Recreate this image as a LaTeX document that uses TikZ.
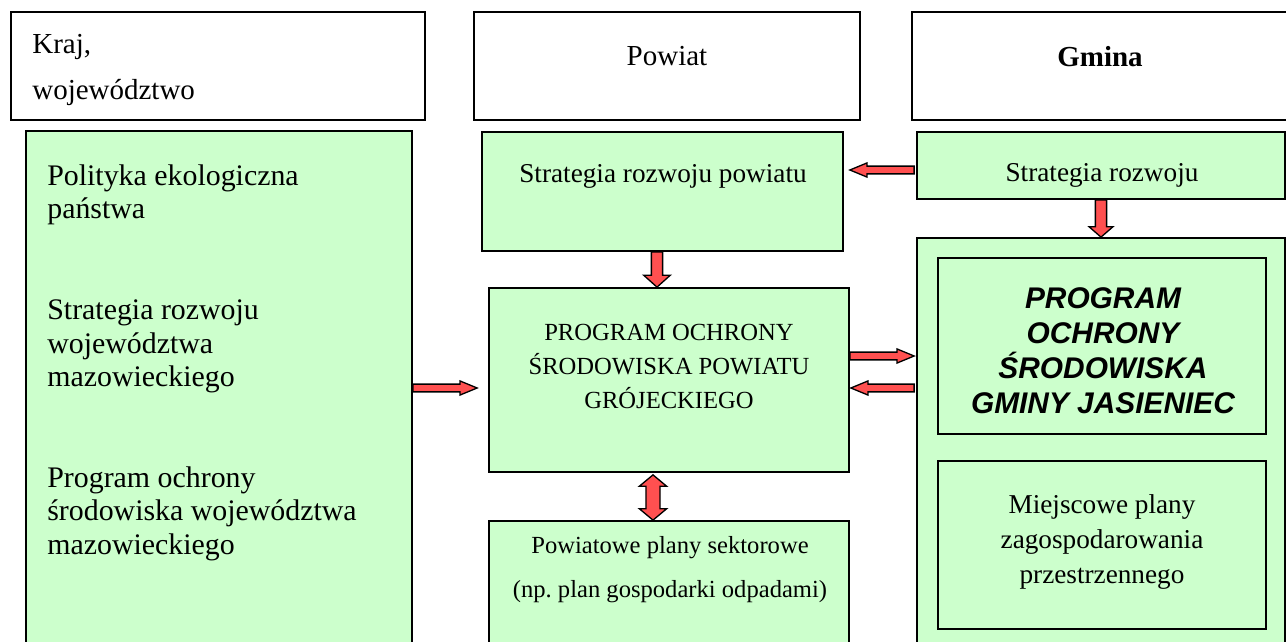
\documentclass[tikz,border=0pt]{standalone}
\usepackage{fontspec}
\setmainfont{Liberation Serif}
\newfontfamily\arialfont{Liberation Sans}
\usetikzlibrary{calc,fit}
\definecolor{boxgreen}{HTML}{CCFFCC}
\definecolor{arrowred}{HTML}{FF5050}
\frenchspacing
\tikzset{%
  hdr/.style = {draw,line width=1pt,fill=white,inner sep=0pt},
  gbox/.style = {draw,line width=1pt,fill=boxgreen,inner sep=0pt},
  txt/.style = {inner sep=0pt},
  arr/.style = {draw,fill=arrowred,line width=0.75pt}
}
% block arrow: from, to, half shaft, half head, head length
\newcommand{\blockarrow}[5]{%
  \path[arr] let \p1=(#1), \p2=(#2),
    \n1={veclen(\x2-\x1,\y2-\y1)}, \n2={atan2(\y2-\y1,\x2-\x1)} in
    [shift={(\p1)},rotate=\n2]
    (0pt,-#3) -- (\n1-#5,-#3) -- (\n1-#5,-#4) -- (\n1,0pt)
    -- (\n1-#5,#4) -- (\n1-#5,#3) -- (0pt,#3) -- cycle;}
% the same with a head at both ends
\newcommand{\dblarrow}[5]{%
  \path[arr] let \p1=(#1), \p2=(#2),
    \n1={veclen(\x2-\x1,\y2-\y1)}, \n2={atan2(\y2-\y1,\x2-\x1)} in
    [shift={(\p1)},rotate=\n2]
    (0pt,0pt) -- (#5,-#4) -- (#5,-#3) -- (\n1-#5,-#3) -- (\n1-#5,-#4)
    -- (\n1,0pt) -- (\n1-#5,#4) -- (\n1-#5,#3) -- (#5,#3) -- (#5,#4) -- cycle;}

\begin{document}
\begin{tikzpicture}[x=0.02cm,y=-0.02cm]
  \useasboundingbox (0,0) rectangle (1286,642);
  \fill[white] (0,0) rectangle (1286,642);
  \clip (0,0) rectangle (1286,642);
  % column headers
  \node[hdr, fit={(11,12) (425,120)}] (hkraj) {};
  \node[hdr, fit={(474,12) (860,120)}] (hpow) {};
  \node[hdr, fit={(912,12) (1295,120)}] (hgm) {};
  \node[txt, anchor=west, align=left, font=\fontsize{16.5}{26.7}\selectfont] (kraj) at (32,70) {Kraj,\\województwo};
  \node[txt, anchor=base, font=\fontsize{16.5}{20}\selectfont] (powiat) at (667,66) {Powiat};
  \node[txt, anchor=base, font=\fontsize{16.5}{20}\selectfont\bfseries] (gmina) at (1100,67) {Gmina};
  % kraj, wojewodztwo
  \node[gbox, fit={(26,131) (412,660)}] (lbox) {};
  \node[txt, anchor=west, align=left, font=\fontsize{17}{19.1}\selectfont] (ltxt) at (47,362.8)
    {Polityka ekologiczna\\państwa\\[38.2pt]
     Strategia rozwoju\\województwa\\mazowieckiego\\[38.2pt]
     Program ochrony\\środowiska województwa\\mazowieckiego};
  % powiat
  \node[gbox, fit={(482,132) (843,251)}] (spow) {};
  \node[txt, anchor=base, font=\fontsize{15.5}{19}\selectfont] (spowtxt) at (663,183) {Strategia rozwoju powiatu};
  \node[gbox, fit={(489,288) (849,472)}] (ppow) {};
  \node[txt, align=center, font=\fontsize{14}{19.35}\selectfont] (ppowtxt) at (669,366.5)
    {PROGRAM OCHRONY\\ŚRODOWISKA POWIATU\\GRÓJECKIEGO};
  \node[gbox, fit={(489,521) (849,660)}] (plany) {};
  \node[txt, align=center, font=\fontsize{14}{25}\selectfont] (planytxt) at (670,570)
    {Powiatowe plany sektorowe\\(np. plan gospodarki odpadami)};
  % gmina
  \node[gbox, fit={(917,132) (1285,199)}] (sgm) {};
  \node[txt, anchor=base, font=\fontsize{15.5}{19}\selectfont] (sgmtxt) at (1102,182) {Strategia rozwoju};
  \node[gbox, fit={(917,238) (1285,660)}] (gmbox) {};
  \node[gbox, fit={(938,258) (1266,434)}] (pgm) {};
  \node[txt, align=center, font=\fontsize{17}{19.9}\selectfont\arialfont\bfseries\itshape] (pgmtxt) at (1103,351)
    {PROGRAM\\OCHRONY\\ŚRODOWISKA\\GMINY JASIENIEC};
  \node[gbox, fit={(938,461) (1266,629)}] (mpz) {};
  \node[txt, align=center, font=\fontsize{15.5}{19.9}\selectfont] (mpztxt) at (1102,541.7)
    {Miejscowe plany\\zagospodarowania\\przestrzennego};
  % arrows
  \blockarrow{$(sgm.west)+(-2,4.5)$}{$(spow.east |- sgm.west)+(6,4.5)$}{2.2pt}{4pt}{9.7pt}
  \blockarrow{$(spow.south |- spow.south)+(-5.5,0)$}{$(spow.south |- ppow.north)+(-5.5,0)$}{3.2pt}{7.6pt}{6.8pt}
  \blockarrow{sgm.south}{gmbox.north}{3.2pt}{6.8pt}{5.9pt}
  \blockarrow{$(ppow.east)+(0,-24)$}{$(gmbox.west |- ppow.east)+(-2,-24)$}{2.2pt}{4pt}{9.7pt}
  \blockarrow{$(gmbox.west |- ppow.east)+(-2,8)$}{$(ppow.east)+(1,8)$}{2.2pt}{4pt}{9.7pt}
  \blockarrow{$(lbox.east |- ppow.east)+(0,8)$}{$(ppow.west)+(-11,8)$}{2.2pt}{4pt}{9.7pt}
  \dblarrow{$(ppow.south)+(-16,2)$}{$(plany.north)+(-16,0)$}{4pt}{7.8pt}{6.5pt}
\end{tikzpicture}
\end{document}
